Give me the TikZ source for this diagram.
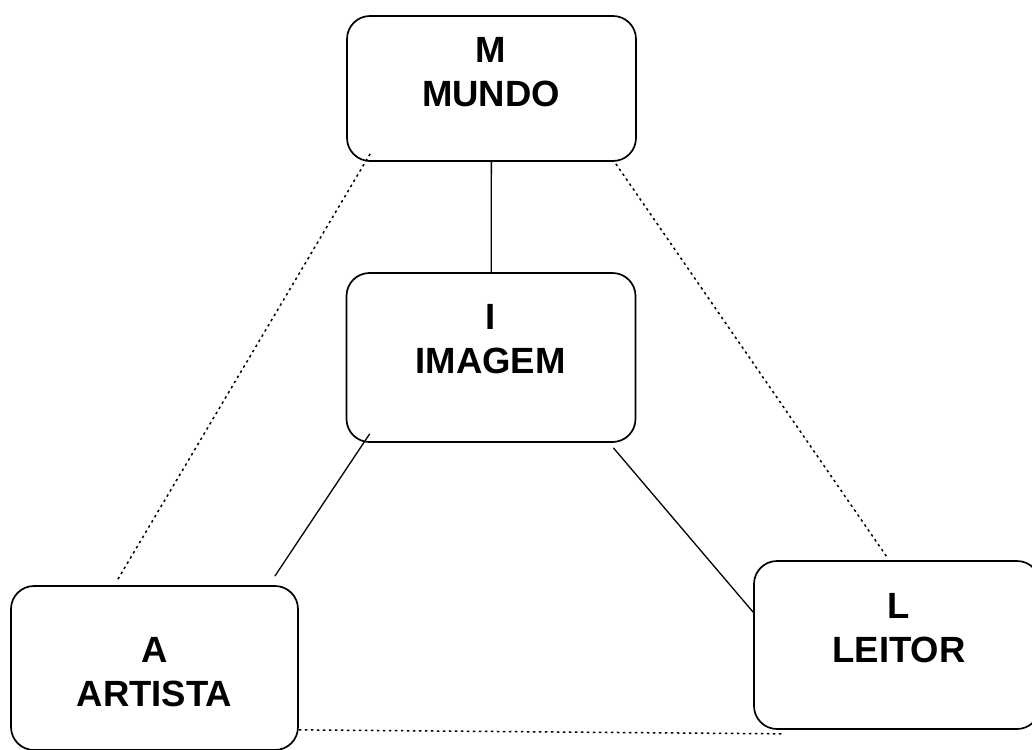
\documentclass[tikz,border=0pt]{standalone}
\usepackage{fontspec}
\setmainfont{Liberation Sans}

\begin{document}
\begin{tikzpicture}[x=1pt,y=-1pt,
    box/.style={draw,line width=1.7pt,rounded corners=23pt,
        minimum width=289pt,minimum height=145pt},
    txt/.style={align=center,inner sep=0pt,
        font=\fontsize{36.5}{44}\selectfont\bfseries},
    link/.style={line width=1.3pt},
    dotlink/.style={line width=1.5pt,dash pattern=on 2.5pt off 3.5pt}]
    \useasboundingbox (0,0) rectangle (1032,749);

    % the four boxes
    \node[box] (mundo) at (491.5,88.5) {};
    \node[box,minimum height=169pt] (imagem) at (491,357.5) {};
    \node[box,minimum width=287pt,minimum height=164pt] (artista) at (154.5,668) {};
    \node[box,minimum width=286pt,minimum height=168pt] (leitor) at (897,645) {};

    \node[txt] (mundotxt) at (491,72) {M\\MUNDO};
    \node[txt] (imagemtxt) at (490.5,339) {I\\IMAGEM};
    \node[txt] (artistatxt) at (154.5,672) {A\\ARTISTA};
    \node[txt] (leitortxt) at (899,628) {L\\LEITOR};

    % solid links
    \draw[link] (mundo) -- (imagem);
    \draw[link] ([shift={(24,-9)}]imagem.south west)
        -- ([shift={(-24,-9)}]artista.north east);
    \draw[link] ([shift={(-23,5)}]imagem.south east)
        -- ([shift={(0,52)}]leitor.north west);

    % dotted links
    \draw[dotlink] ([shift={(24,-8)}]mundo.south west)
        -- ([shift={(106,-3)}]artista.north west);
    \draw[dotlink] ([shift={(-21,2)}]mundo.south east)
        -- ([shift={(-10,-3)}]leitor.north);
    \draw[dotlink] ([shift={(0,-21)}]artista.south east)
        -- ([shift={(29,4)}]leitor.south west);

\end{tikzpicture}
\end{document}
